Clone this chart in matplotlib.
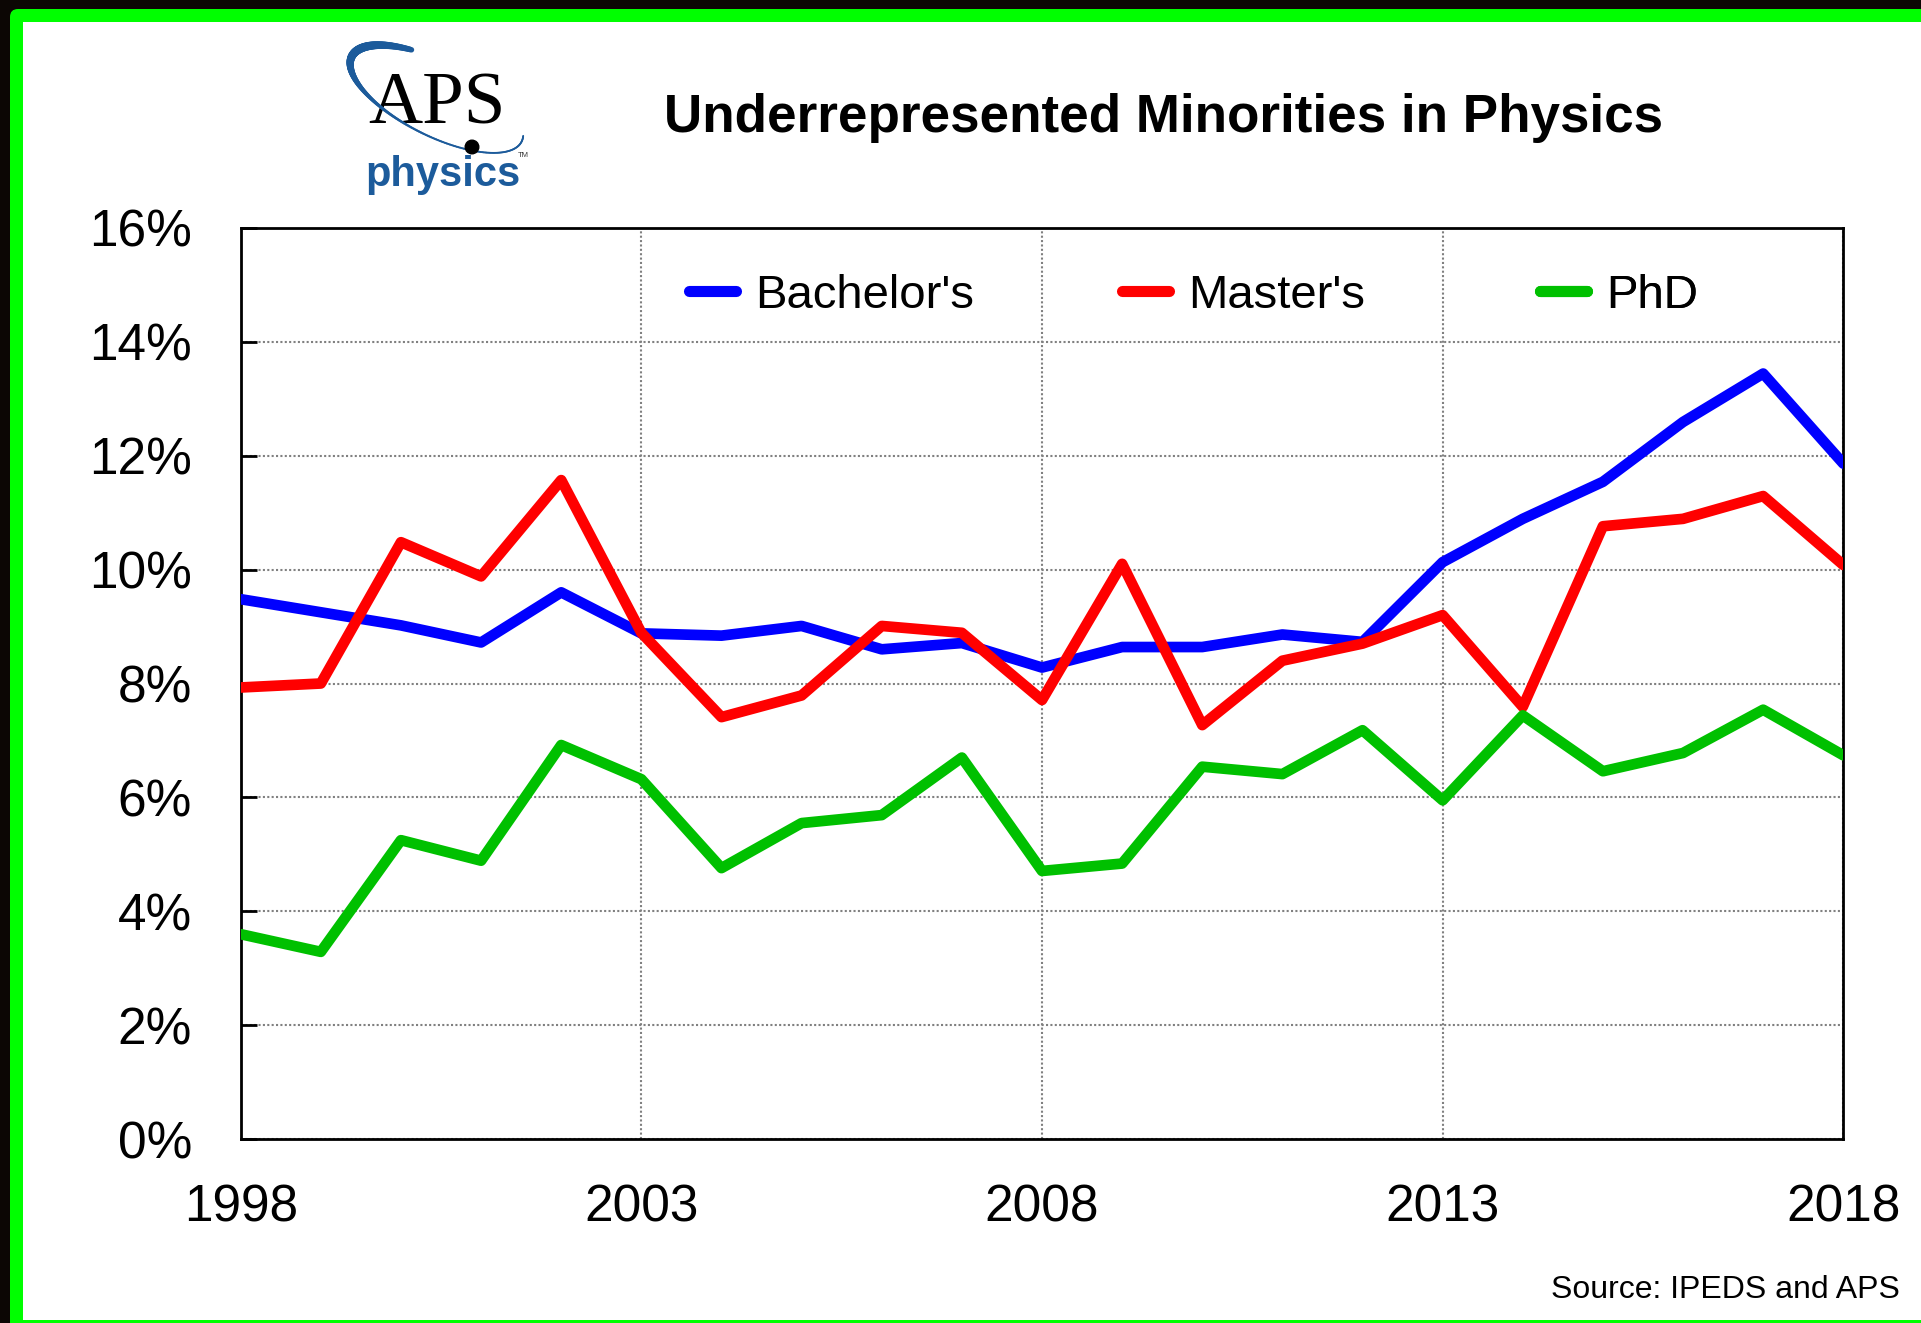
import matplotlib
matplotlib.use('Agg')
import matplotlib.pyplot as plt
from matplotlib.patches import Rectangle, FancyBboxPatch, Circle
from matplotlib.collections import LineCollection
from matplotlib.transforms import IdentityTransform
from matplotlib.ticker import FuncFormatter
import numpy as np

plt.rcParams['font.family'] = ['Liberation Sans', 'DejaVu Sans']

# ---------------- data ----------------
years = list(range(1998, 2019))
bachelors = [9.48, 9.25, 9.02, 8.72, 9.60, 8.88, 8.84, 9.01, 8.60, 8.71, 8.28,
             8.64, 8.64, 8.86, 8.73, 10.13, 10.89, 11.54, 12.59, 13.44, 11.86]
masters = [7.93, 8.00, 10.48, 9.88, 11.57, 8.89, 7.41, 7.79, 9.01, 8.89, 7.71,
           10.10, 7.27, 8.40, 8.70, 9.20, 7.59, 10.76, 10.89, 11.29, 10.08]
phd = [3.60, 3.29, 5.25, 4.89, 6.92, 6.32, 4.76, 5.55, 5.69, 6.70, 4.71,
       4.84, 6.54, 6.41, 7.18, 5.95, 7.44, 6.46, 6.78, 7.54, 6.74]
series_names = ["Bachelor's", "Master's", "PhD"]
series_colors = ['#0000ff', '#ff0000', '#00c000']
x_ticks = [1998, 2003, 2008, 2013, 2018]
y_ticks = [0, 2, 4, 6, 8, 10, 12, 14, 16]
title = "Underrepresented Minorities in Physics"
source = "Source: IPEDS and APS"

W, H = 1921, 1323
fig = plt.figure(figsize=(W / 100, H / 100), dpi=100)
fig.patch.set_facecolor('#0c0604')

# green frame and white card (pixel coordinates)
green = FancyBboxPatch((10, -30), 1990, (H - 9) + 30,
                       boxstyle='round,pad=0,rounding_size=8',
                       fc='#00ff00', ec='none', transform=IdentityTransform(), zorder=-20)
fig.add_artist(green)
white = Rectangle((23, 3), 1990, (H - 22) - 3, fc='white', ec='none',
                  transform=IdentityTransform(), zorder=-19)
fig.add_artist(white)

# ---------------- main axes ----------------
x0, x1 = 240.7, 1843.3
ytop, ybot = 227.7, 1139.3
ax = fig.add_axes([x0 / W, (H - ybot) / H, (x1 - x0) / W, (ybot - ytop) / H])
ax.set_facecolor('white')

lines = []
for vals, name, col in zip([bachelors, masters, phd], series_names, series_colors):
    ln, = ax.plot(years, vals, color=col, lw=7.7, solid_joinstyle='round',
                  solid_capstyle='round', label=name, zorder=3)
    lines.append(ln)

ax.set_xlim(1998, 2018)
ax.set_ylim(0, 16)
ax.set_xticks(x_ticks)
ax.set_yticks(y_ticks)
ax.yaxis.set_major_formatter(FuncFormatter(lambda v, p: f"{v:.0f}%"))
ax.grid(True, color='#808080', lw=1.5, linestyle=(0, (1, 1.1)))
ax.set_axisbelow(True)
for s in ax.spines.values():
    s.set_linewidth(2)
    s.set_color('black')
ax.tick_params(axis='x', length=0, pad=31.5, labelsize=37)
ax.tick_params(axis='y', direction='in', length=11.5, width=2, pad=35, labelsize=37)

# legend: one entry per box, placed like the original
legend_x = [0.2797, 0.5499, 0.8108]
for ln, lxp in zip(lines, legend_x):
    leg = ax.legend(handles=[ln], loc='center left', bbox_to_anchor=(lxp, 0.9256),
                    frameon=False, fontsize=34, handlelength=1.0, handletextpad=0.40,
                    borderpad=0, borderaxespad=0)
    for hl in leg.get_lines():
        hl.set_solid_capstyle('round')
        hl.set_linewidth(8.0)
    ax.add_artist(leg)

# ---------------- title & source ----------------
fig.text(1163 / W, (H - 132) / H, title, ha='center', va='baseline',
         fontsize=38.2, fontweight='bold')
fig.text(1900 / W, (H - 1298) / H, source, ha='right', va='baseline', fontsize=23)

# ---------------- APS logo ----------------
lx0, lx1, ly0, ly1 = 340, 540, 40, 200
lax = fig.add_axes([lx0 / W, (H - ly1) / H, (lx1 - lx0) / W, (ly1 - ly0) / H])
lax.set_xlim(lx0, lx1)
lax.set_ylim(ly1, ly0)
lax.axis('off')
logo_blue = '#1c5b9b'
lax.text(436.5, 123, 'APS', family='Liberation Serif', fontsize=54,
         ha='center', va='baseline', color='black', zorder=2)
cx, cy, a, b, ang = 436.7, 99.0, 95.0, 37.0, np.deg2rad(26.6)
t = np.deg2rad(np.linspace(-9, 242, 220))
u = np.array([np.cos(ang), np.sin(ang)])
v = np.array([-np.sin(ang), np.cos(ang)])
px = cx + a * np.cos(t) * u[0] + b * np.sin(t) * v[0]
py = cy + a * np.cos(t) * u[1] + b * np.sin(t) * v[1]
pts = np.column_stack([px, py]).reshape(-1, 1, 2)
segs = np.concatenate([pts[:-1], pts[1:]], axis=1)
tm = np.rad2deg(t[:-1])
widths = 1.3 + 4.8 * np.exp(-((tm - 195) / 60) ** 2)
lc = LineCollection(segs, linewidths=widths, colors=logo_blue, capstyle='round', zorder=3)
lax.add_collection(lc)
lax.add_patch(Circle((472, 147), 6.8, color='black', zorder=4))
lax.text(443, 186, 'physics', fontsize=30, fontweight='bold', color=logo_blue,
         ha='center', va='baseline', zorder=2)
lax.text(523, 157, 'TM', fontsize=5.5, color='#333333', ha='center', va='baseline')

fig.savefig('out.png', dpi=100, facecolor=fig.get_facecolor())
